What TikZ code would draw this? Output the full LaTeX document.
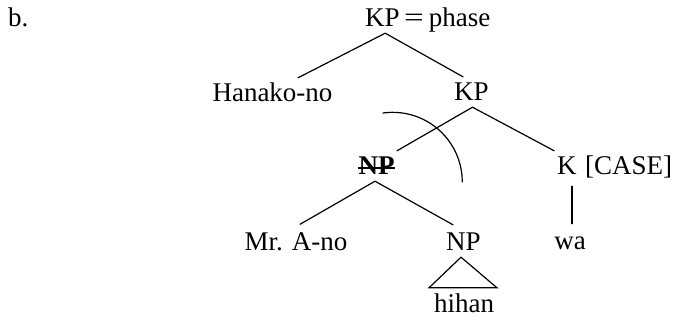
\documentclass[tikz,border=0pt]{standalone}
\usepackage{fontspec}
\usepackage{graphicx}
\setmainfont{Liberation Serif}
\usetikzlibrary{calc}
\tikzset{
  lbl/.style={font=\fontsize{27}{32}\selectfont, inner xsep=0pt, inner ysep=6pt,
              text height=18pt, text depth=0pt, anchor=base},
  edge/.style={line width=1.2pt, line cap=round}
}
\begin{document}
\begin{tikzpicture}[x=1pt,y=1pt]
\useasboundingbox (0,0) rectangle (673,-320);
\node[lbl, anchor=base west] (b) at (8,-27) {b.};
\node[lbl, anchor=base west] (kp0) at (365,-27) {KP};
\node[lbl, anchor=base west] (eq) at (kp0.base east) {\hspace{4pt}\scalebox{1.3}[1]{=}\hspace{5pt}phase};
\node[lbl] (hanako) at (272.5,-102) {Hanako-no};
\node[lbl] (kp1) at (471.5,-101) {KP};
\node[lbl] (np1) at (376.5,-175) {\textbf{NP}};
\node[lbl, anchor=base west] (k) at (557,-175) {K};
\node[lbl, anchor=base west] (case) at (k.base east) {\hspace{8pt}[CASE]};
\node[lbl] (mrano) at (296,-250.5) {Mr. A-no};
\node[lbl] (np2) at (463.5,-251) {NP};
\node[lbl] (wa) at (570,-250) {wa};
\node[lbl] (hihan) at (464,-313) {hihan};

\draw[edge] ([xshift=25.5pt]hanako.north) -- ([xshift=2.75pt]kp0.south) -- ([xshift=-8.5pt]kp1.north);
\draw[edge] ([xshift=20.5pt]np1.north) -- ([xshift=1pt]kp1.south) -- ([xshift=-12.75pt]k.north);
\draw[edge] ([xshift=4pt,yshift=2pt]mrano.north) -- ([xshift=-1.5pt]np1.south) -- ([xshift=-10.5pt,yshift=2pt]np2.north);
\draw[edge, line join=miter, line cap=butt] ([xshift=-2.5pt]np2.south) -- ([xshift=-35pt,yshift=1pt]hihan.north) -- ([xshift=33pt,yshift=1pt]hihan.north) -- cycle;
\draw[edge] ($(wa.north|-k.south)+(2,-5)$) -- ($(wa.north)+(2,2)$);
\draw[line width=1.7pt] ($(np1.base west)+(0,7)$) -- ($(np1.base east)+(0,7)$);
\coordinate (arcstart) at (383,-113);
\draw[edge] (arcstart) arc[start angle=98, end angle=0, radius=69.6pt];
\end{tikzpicture}
\end{document}
